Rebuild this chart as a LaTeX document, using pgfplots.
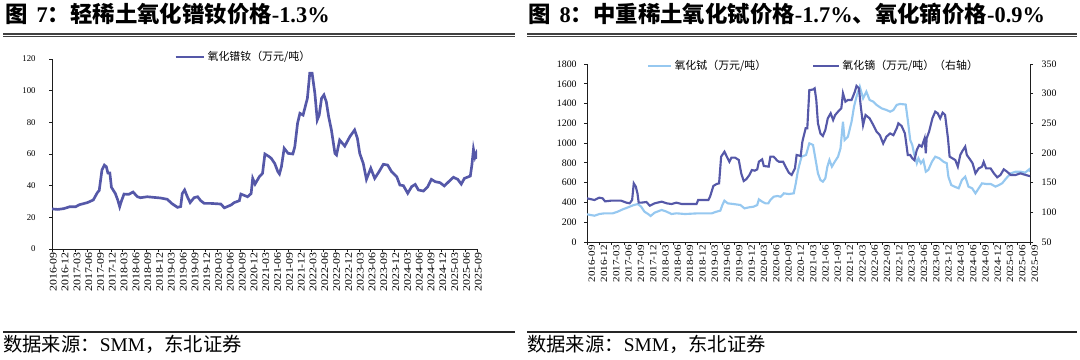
\documentclass[border=0pt]{standalone}
\usepackage{graphicx}
\usepackage{pgfplots}
\pgfplotsset{compat=1.18}
\usepackage{fontspec}
\setmainfont{Liberation Serif}
\newfontfamily\cjk{Noto Sans CJK SC}
\definecolor{dk}{RGB}{85,88,168}
\definecolor{lt}{RGB}{150,200,240}
\definecolor{ax}{RGB}{30,30,30}
\newcommand\xl[1]{\scalebox{1.17}[1]{#1}}
\pgfplotsset{
  mybase/.style={
    scale only axis,
    xmin=0, xmax=108,
    xtick={0,3,...,108},
    xticklabels={\xl{2016-09},\xl{2016-12},\xl{2017-03},\xl{2017-06},\xl{2017-09},\xl{2017-12},\xl{2018-03},\xl{2018-06},\xl{2018-09},\xl{2018-12},\xl{2019-03},\xl{2019-06},\xl{2019-09},\xl{2019-12},\xl{2020-03},\xl{2020-06},\xl{2020-09},\xl{2020-12},\xl{2021-03},\xl{2021-06},\xl{2021-09},\xl{2021-12},\xl{2022-03},\xl{2022-06},\xl{2022-09},\xl{2022-12},\xl{2023-03},\xl{2023-06},\xl{2023-09},\xl{2023-12},\xl{2024-03},\xl{2024-06},\xl{2024-09},\xl{2024-12},\xl{2025-03},\xl{2025-06},\xl{2025-09}},
    tick align=outside,
    major tick length=2.25pt,
    axis line style={ax, line width=0.6pt},
    tick style={ax, line width=0.6pt},
    /pgf/number format/assume math mode=true,
    /pgf/number format/1000 sep={},
    yticklabel style={font=\fontsize{6.6}{7}\selectfont, text=black},
    xticklabel style={font=\fontsize{7.6}{8}\selectfont, rotate=90, anchor=east, inner sep=0pt, text=black},
    legend cell align=left,
  }
}
\begin{document}
\begin{tikzpicture}[x=0.75pt,y=0.75pt]
\path[use as bounding box] (0,0) rectangle (1080,360);
% titles
\node[anchor=base west, inner sep=0pt] at (5,337) {\fontsize{16.8}{18}\selectfont{\cjk\bfseries 图}\hspace{0.4em}{\bfseries 7}{\cjk\bfseries ：轻稀土氧化镨钕价格}{\bfseries -1.3\%}};
\node[anchor=base west, inner sep=0pt] at (528,337) {\fontsize{16.8}{18}\selectfont{\cjk\bfseries 图}\hspace{0.4em}{\bfseries 8}{\cjk\bfseries ：中重稀土氧化铽价格}{\bfseries -1.7\%}{\cjk\bfseries 、氧化镝价格}{\bfseries -0.9\%}};
\draw[black!75, line width=1.1pt] (3,326.2) -- (515,326.2);
\draw[black!75, line width=0.6pt] (3,323.6) -- (515,323.6);
\draw[black!75, line width=1.1pt] (527,326.2) -- (1077,326.2);
\draw[black!75, line width=0.6pt] (527,323.6) -- (1077,323.6);
\draw[black!85, line width=0.8pt] (3,28) -- (515,28);
\draw[black!85, line width=0.8pt] (527,28) -- (1077,28);
\node[anchor=base west, inner sep=0pt] at (3,8) {\fontsize{14.5}{16}\selectfont{\cjk 数据来源：}SMM{\cjk ，东北证券}};
\node[anchor=base west, inner sep=0pt] at (527,8) {\fontsize{14.5}{16}\selectfont{\cjk 数据来源：}SMM{\cjk ，东北证券}};
% left chart
\begin{axis}[mybase,
  at={(39pt,83.25pt)}, anchor=south west,
  width=318.75pt, height=142.5pt,
  axis x line*=bottom, axis y line*=left,
  ymin=0, ymax=120, ytick={0,20,...,120},
  yticklabel style={xshift=-6.5pt},
  xticklabel style={yshift=-1pt},
  legend style={at={(0.287,1.01)}, anchor=west, draw=none, fill=none, inner sep=0pt, font=\cjk\fontsize{8.2}{9}\selectfont},
  legend image code/.code={\draw[#1] (0pt,0pt) -- (21pt,0pt);},
]
\addplot[dk, line width=2pt] coordinates {
(0,25.3) (1.5,25.0) (3,25.5) (4.5,26.7) (6,26.7) (7,28) (9,29.3) (10.5,31) (11.5,35.5) (12,37)
(12.7,50) (13.3,53) (13.8,52) (14.2,48) (14.7,48) (15.1,39) (16.1,35) (16.7,31) (17.2,26.7) (17.6,30)
(18.3,34.7) (19.5,34.5) (20.6,36) (21.7,33) (22.5,32.4) (24.2,33) (25.9,32.6) (27.6,32.2) (29.3,31.4)
(30.4,28.8) (31.9,26.3) (32.7,26.8) (33.1,35) (33.7,37.3) (34.4,33) (35.1,29.3) (36.1,32.4) (37,33)
(37.8,30.5) (38.7,28.8) (40.4,28.8) (42.9,28.4) (43.8,26) (45.5,27.8) (46.3,29.3) (47.6,30.5) (48,34.7)
(49.7,33) (50.6,35) (51,44.6) (51.6,41) (52.7,45.7) (53.5,47.8) (54.1,60) (55.2,58.3) (55.7,57.3)
(56.6,54) (57.4,48.8) (57.8,47.4) (58.3,52) (59,63.6) (60,60.4) (61.2,60) (61.7,64.6) (62.4,79.4)
(63,85.7) (63.8,84.6) (64.9,95.2) (65.5,111) (66.1,111) (66.8,98.3) (67.4,81.5) (67.9,84.6) (68.5,95.2)
(69.1,97.3) (69.7,93) (70.3,83.6) (71,75.2) (71.9,60.4) (72.3,59.4) (73.1,68.8) (74.4,65) (75.7,71)
(76.9,75.2) (77.6,70) (78.2,60.4) (79.1,54) (79.9,44) (81,51) (82,44.6) (83.1,48.8) (84.2,53.5)
(85.3,53) (86.3,48.8) (87.6,45.7) (88.4,40.4) (89.3,40) (90.4,35.2) (91.4,39.4) (92.3,40.8) (93.1,37.3)
(94.4,36.6) (95.5,39.4) (96.4,44) (97.4,42.5) (98.6,41.9) (99.7,39.8) (100.8,42.5) (102,45.3) (103.1,44)
(104,41) (104.8,44.6) (106.3,46.1) (106.7,53) (107.1,63) (107.5,58) (107.8,60) (108,57)
};
\addlegendentry{氧化镨钕（万元/吨）}
\end{axis}
% right chart, left axis: terbium
\begin{axis}[mybase,
  at={(440.25pt,88.5pt)}, anchor=south west,
  width=332.25pt, height=133.5pt,
  axis x line*=bottom, axis y line*=left,
  ymin=0, ymax=1800, ytick={0,200,...,1800},
  yticklabel style={font=\fontsize{7.4}{8}\selectfont, xshift=-2pt},
  xticklabel style={font=\fontsize{7.1}{8}\selectfont, yshift=-3.5pt},
  legend style={at={(0.135,0.989)}, anchor=west, draw=none, fill=none, inner sep=0pt, font=\cjk\fontsize{8.2}{9}\selectfont},
  legend image code/.code={\draw[#1] (0pt,0pt) -- (17pt,0pt);},
]
\addplot[lt, line width=1.6pt] coordinates {
(0,280) (1.8,266) (3.0,283) (4.3,290) (6.3,290) (7.5,307) (8.7,330) (10,350) (11.2,371) (12.4,384)
(13.2,357) (14,307) (14.9,283) (15.5,263) (16.5,297) (18.2,324) (19.4,307) (20.6,283) (21.8,290)
(23.9,283) (27.1,290) (30.4,290) (31.6,307) (32.5,317) (33,374) (33.5,418) (34.3,391) (35.7,384)
(37.4,374) (38.4,340) (39.4,350) (40.6,357) (41.5,374) (41.9,431) (42.7,408) (43.5,391) (44.2,391)
(44.7,425) (45.5,458) (46.4,465) (47.2,458) (48,492) (49.2,485) (50.4,492) (50.9,593) (51.3,694)
(51.7,769) (52.3,863) (53.4,880) (54.2,998) (55.1,981) (55.6,863) (56.3,694) (56.9,627) (57.5,610)
(58.1,644) (58.6,762) (59.1,829) (59.7,762) (60.4,812) (61.2,863) (61.8,947) (62.4,1217) (62.8,1031)
(63.6,1065) (64.5,1217) (65.1,1369) (65.7,1470) (66.5,1571) (67.3,1453) (68.1,1520) (68.9,1436)
(69.8,1419) (70.6,1386) (71.8,1352) (73,1335) (73.9,1318) (74.7,1335) (75.5,1386) (76.3,1396)
(77.7,1390) (78.2,1234) (78.8,1031) (79.3,981) (79.8,880) (80.4,796) (80.8,846) (81.4,796) (82,829)
(82.6,711) (83.2,728) (84.1,812) (84.9,863) (85.9,846) (86.9,812) (87.7,796) (88.1,661) (88.8,576)
(89.6,560) (90.6,543) (91.4,627) (92.2,661) (93,560) (93.9,543) (94.7,492) (95.5,543) (96.3,593)
(97.3,587) (98.4,587) (99.6,560) (100.4,576) (101.2,593) (102.2,644) (103.3,694) (104.5,711)
(105.7,711) (106.8,701) (107.8,735) (108,711)
};
\addlegendentry{氧化铽（万元/吨）}
\end{axis}
% right chart, right axis: dysprosium
\begin{axis}[mybase,
  at={(440.25pt,88.5pt)}, anchor=south west,
  width=332.25pt, height=133.5pt,
  axis x line=none, axis y line*=right,
  ymin=50, ymax=350, ytick={50,100,...,350},
  yticklabel style={font=\fontsize{7.4}{8}\selectfont, xshift=3pt},
  legend style={at={(0.508,0.989)}, anchor=west, draw=none, fill=none, inner sep=0pt, font=\cjk\fontsize{8.2}{9}\selectfont},
  legend image code/.code={\draw[#1] (0pt,0pt) -- (19pt,0pt);},
]
\addplot[dk, line width=1.6pt] coordinates {
(0,123.6) (1.8,120.8) (3.0,124.7) (3.8,123.6) (4.4,118.5) (5.9,119.7) (8.3,119.7) (9.6,116.3)
(10.4,115.2) (11,120.8) (11.4,148.8) (11.9,143.3) (12.3,132) (12.6,116.3) (13.2,116.3) (14.5,117.4)
(15.3,111.2) (16.5,115.2) (18.2,118) (19.4,115.2) (20.6,114) (21.8,116.3) (23.1,114) (26.7,114)
(27.1,120.8) (29.6,120.8) (30,126.4) (30.8,144.4) (31.6,147.8) (32.2,148.8) (32.7,193.8) (33.5,202.2)
(34.1,193.8) (34.7,185.3) (35.2,192.2) (36.1,192.2) (37,188.2) (37.6,165.7) (38.2,152.8) (38.8,155.6)
(39.6,163) (40.2,171.3) (40.9,170.2) (41.5,172.5) (41.9,185.3) (42.7,189.3) (43.1,178.1) (44.3,177)
(44.7,193.8) (45.5,193.8) (46.4,187) (46.8,185.3) (47.8,185.3) (48.4,177) (49.2,166.8) (49.9,163)
(50.7,174.2) (51.1,196.7) (52.1,195) (52.5,219) (53.3,241.6) (53.7,241.6) (54.2,306) (55.1,307)
(55.5,309) (55.9,289) (56.3,250) (56.9,233) (57.5,228.7) (58.1,238.8) (58.7,258.4) (59.4,266.9)
(60,255.6) (60.5,264) (61.2,269.7) (62,275.3) (62.4,300.6) (63,286.5) (63.6,289.3) (64.5,289.3)
(65.3,303.4) (65.7,313) (66.3,309) (66.7,281) (67.3,247) (67.9,264) (68.9,258.4) (69.8,247) (70.6,236)
(71.4,230) (72.2,216) (73,227.5) (73.9,233) (74.7,230) (75.5,241.6) (75.9,250) (76.7,245.5) (77.5,233)
(78.2,196.6) (78.8,196.6) (79.3,191) (79.8,188) (80.4,205) (81,213.5) (81.6,210.7) (82.3,224.7)
(82.6,199.4) (82.8,224.7) (83.4,236) (84.2,258.4) (84.9,269.7) (85.5,266.9) (86.1,258.4) (86.7,268)
(87.3,264) (88,224.7) (88.4,193.8) (89.1,191) (89.8,188) (90.4,177) (91,196.6) (91.4,202) (92.2,210.7)
(92.6,196.6) (93.5,188) (94,182.6) (94.7,165.7) (95.5,174) (96.3,177) (96.7,185) (97.3,174) (98.4,174)
(99.2,165.7) (100,159) (100.8,163) (101.6,172.5) (102.4,168.5) (103.3,163) (104.5,163) (105.7,165.7)
(106.9,163) (108,161)
};
\addlegendentry{氧化镝（万元/吨）（右轴）}
\end{axis}
\end{tikzpicture}
\end{document}
